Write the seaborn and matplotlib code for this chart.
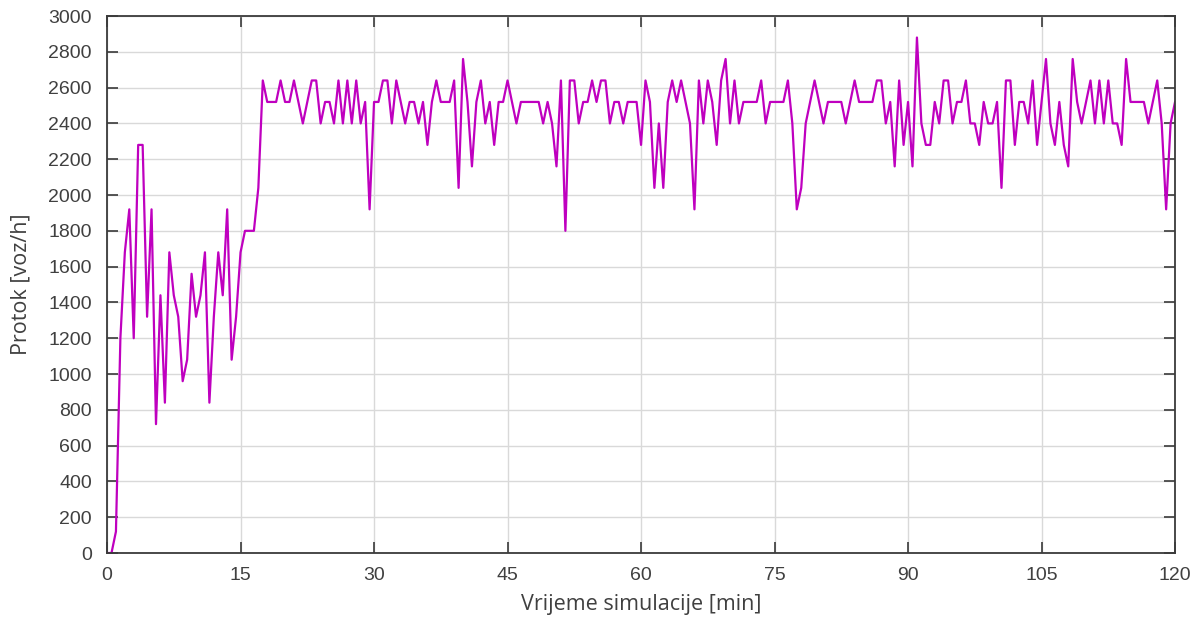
import numpy as np
import pandas as pd
import matplotlib
matplotlib.use("Agg")
import matplotlib.pyplot as plt
import seaborn as sns

# flow per 30 s sample, converted to veh/h (one row = 5 min)
flow = [
    0, 0, 120, 1200, 1680, 1920, 1200, 2280, 2280, 1320,
    1920, 720, 1440, 840, 1680, 1440, 1320, 960, 1080, 1560,
    1320, 1440, 1680, 840, 1320, 1680, 1440, 1920, 1080, 1320,
    1680, 1800, 1800, 1800, 2040, 2640, 2520, 2520, 2520, 2640,
    2520, 2520, 2640, 2520, 2400, 2520, 2640, 2640, 2400, 2520,
    2520, 2400, 2640, 2400, 2640, 2400, 2640, 2400, 2520, 1920,
    2520, 2520, 2640, 2640, 2400, 2640, 2520, 2400, 2520, 2520,
    2400, 2520, 2280, 2520, 2640, 2520, 2520, 2520, 2640, 2040,
    2760, 2520, 2160, 2520, 2640, 2400, 2520, 2280, 2520, 2520,
    2640, 2520, 2400, 2520, 2520, 2520, 2520, 2520, 2400, 2520,
    2400, 2160, 2640, 1800, 2640, 2640, 2400, 2520, 2520, 2640,
    2520, 2640, 2640, 2400, 2520, 2520, 2400, 2520, 2520, 2520,
    2280, 2640, 2520, 2040, 2400, 2040, 2520, 2640, 2520, 2640,
    2520, 2400, 1920, 2640, 2400, 2640, 2520, 2280, 2640, 2760,
    2400, 2640, 2400, 2520, 2520, 2520, 2520, 2640, 2400, 2520,
    2520, 2520, 2520, 2640, 2400, 1920, 2040, 2400, 2520, 2640,
    2520, 2400, 2520, 2520, 2520, 2520, 2400, 2520, 2640, 2520,
    2520, 2520, 2520, 2640, 2640, 2400, 2520, 2160, 2640, 2280,
    2520, 2160, 2880, 2400, 2280, 2280, 2520, 2400, 2640, 2640,
    2400, 2520, 2520, 2640, 2400, 2400, 2280, 2520, 2400, 2400,
    2520, 2040, 2640, 2640, 2280, 2520, 2520, 2400, 2640, 2280,
    2520, 2760, 2400, 2280, 2520, 2280, 2160, 2760, 2520, 2400,
    2520, 2640, 2400, 2640, 2400, 2640, 2400, 2400, 2280, 2760,
    2520, 2520, 2520, 2520, 2400, 2520, 2640, 2400, 1920, 2400,
    2520,
]
step_min = 0.5
time_min = np.arange(len(flow)) * step_min

x_ticks = list(range(0, 121, 15))
y_ticks = list(range(0, 3001, 200))

df = pd.DataFrame({"t": time_min, "q": flow})

sns.set_theme(style="whitegrid")
plt.rcParams["font.family"] = ["Liberation Sans", "DejaVu Sans"]

fig = plt.figure(figsize=(12, 6.19), dpi=100)
ax = fig.add_axes([0.0892, 0.1066, 0.8900, 0.8675])
ax.set_facecolor("white")

sns.lineplot(data=df, x="t", y="q", ax=ax, color="#BF00BF", linewidth=1.6)

ax.set_xlim(0, 120)
ax.set_ylim(0, 3000)
ax.set_xticks(x_ticks)
ax.set_yticks(y_ticks)
ax.grid(True, color="#d9d9d9", linewidth=1.0)

for side in ["left", "right", "top", "bottom"]:
    ax.spines[side].set_visible(True)
    ax.spines[side].set_color("#3a3a3a")
    ax.spines[side].set_linewidth(1.3)

ax.tick_params(axis="both", direction="in", length=8, width=1.2,
               color="#3a3a3a", labelcolor="#404040", labelsize=14,
               top=True, right=True, bottom=True, left=True)
ax.tick_params(axis="x", pad=10)
ax.tick_params(axis="y", pad=11)

ax.set_xlabel("Vrijeme simulacije [min]", fontsize=15.5, color="#404040",
              family=["Open Sans", "DejaVu Sans"], labelpad=7)
ax.set_ylabel("Protok [voz/h]", fontsize=15.5, color="#404040",
              family=["Open Sans", "DejaVu Sans"], labelpad=12)

fig.savefig("out.png", dpi=100, facecolor="white")
